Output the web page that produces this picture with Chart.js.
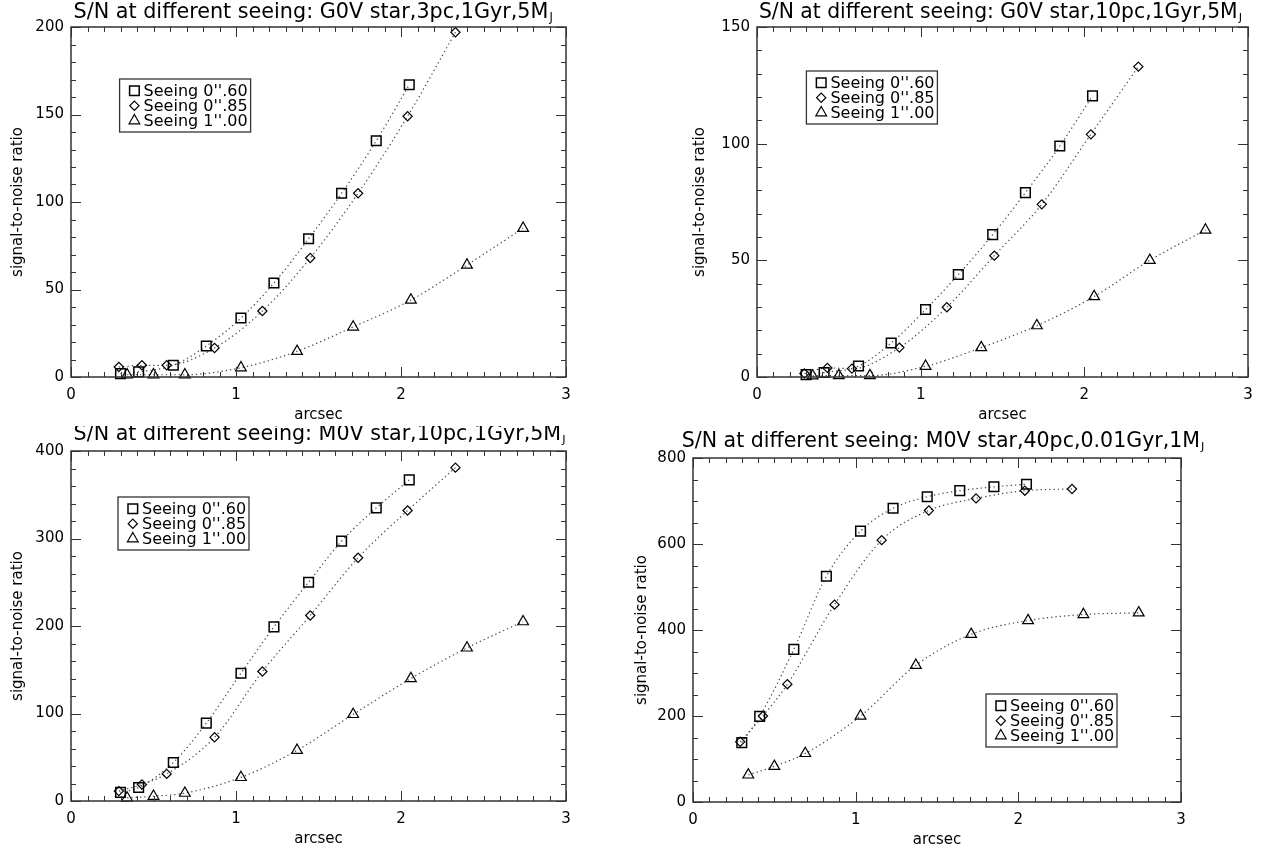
<!DOCTYPE html>
<html><head><meta charset="utf-8">
<script src="https://cdn.jsdelivr.net/npm/chart.js@4/dist/chart.umd.min.js"></script>
<style>
html,body{margin:0;padding:0;background:#fff;}
#wrap{position:relative;width:1268px;height:853px;overflow:hidden;background:#fff;}
canvas{position:absolute;}
</style></head><body><div id="wrap">
<canvas id="cA"></canvas><canvas id="cB"></canvas><canvas id="cC"></canvas><canvas id="cD"></canvas>
</div>
<script>
// ---------- data ----------
const seriesLabels = ["Seeing 0''.60", "Seeing 0''.85", "Seeing 1''.00"];
const xSeeing060 = [0.30, 0.41, 0.62, 0.82, 1.03, 1.23, 1.44, 1.64, 1.85, 2.05];
const xSeeing085 = [0.29, 0.43, 0.58, 0.87, 1.16, 1.45, 1.74, 2.04, 2.33];
const xSeeing100 = [0.34, 0.50, 0.69, 1.03, 1.37, 1.71, 2.06, 2.40, 2.74];

// G0V star, 3pc, 1Gyr, 5MJ
const snG0V3pc060 = [1.9, 2.9, 6.7, 17.7, 33.7, 53.7, 79, 105, 135, 167];
const snG0V3pc085 = [5.7, 6.7, 6.7, 16.6, 37.7, 68, 105, 149, 197];
const snG0V3pc100 = [1.3, 1.3, 1.3, 5.3, 14.7, 28.6, 44, 64, 85];
// G0V star, 10pc, 1Gyr, 5MJ
const snG0V10pc060 = [1.0, 1.9, 4.7, 14.6, 28.9, 43.9, 61, 79, 99, 120.5];
const snG0V10pc085 = [1.5, 3.9, 3.6, 12.6, 29.9, 52, 74, 104, 133];
const snG0V10pc100 = [0.5, 0.6, 0.6, 4.6, 12.6, 22, 34.5, 50, 63];
// M0V star, 10pc, 1Gyr, 5MJ
const snM0V10pc060 = [9.8, 15.5, 44, 89, 146, 199, 250, 297, 335, 367];
const snM0V10pc085 = [11.3, 18.9, 31, 72.8, 148, 212, 278, 332, 381];
const snM0V10pc100 = [3.5, 5.5, 9, 27, 58, 99, 140, 175, 205];
// M0V star, 40pc, 0.01Gyr, 1MJ
const snM0V40pc060 = [138, 199, 355, 525, 630, 683, 710, 724, 733, 739];
const snM0V40pc085 = [140, 200, 274, 459, 609, 678, 706, 724, 728];
const snM0V40pc100 = [63, 83, 113, 200, 318, 390, 422, 436, 440];

const xTickValues = [0, 1, 2, 3];
const xTickLabels = ['0', '1', '2', '3'];
const yTicksA = [0, 50, 100, 150, 200];
const yTicksB = [0, 50, 100, 150];
const yTicksC = [0, 100, 200, 300, 400];
const yTicksD = [0, 200, 400, 600, 800];

const titles = [
  'S/N at different seeing: G0V star,3pc,1Gyr,5M',
  'S/N at different seeing: G0V star,10pc,1Gyr,5M',
  'S/N at different seeing: M0V star,10pc,1Gyr,5M',
  'S/N at different seeing: M0V star,40pc,0.01Gyr,1M'
];

// ---------- layout / style ----------
const FONT = '"DejaVu Sans", "Liberation Sans", sans-serif';
const XAXIS_H = 47;
const panels = [
  {id:'cA', box:[0,0,634,426],   area:[71,27,566,377],  yTitleX:18,  title:{x:73.6, w:481, base:18.3}, yTicks:yTicksA, yMinor:10, legend:[119.6,79],
   text:titles[0], series:[snG0V3pc060, snG0V3pc085, snG0V3pc100]},
  {id:'cB', box:[630,0,638,426], area:[757,27,1248,377], yTitleX:700, title:{x:758.9, w:485, base:18.3}, yTicks:yTicksB, yMinor:10, legend:[806.4,71],
   text:titles[1], series:[snG0V10pc060, snG0V10pc085, snG0V10pc100]},
  {id:'cC', box:[0,426,634,427], area:[71,451,566,801], yTitleX:18,  title:{x:73.6, w:494, base:440}, yTicks:yTicksC, yMinor:20, legend:[118,497],
   text:titles[2], series:[snM0V10pc060, snM0V10pc085, snM0V10pc100]},
  {id:'cD', box:[630,426,638,427], area:[693,458,1181,802], yTitleX:642, title:{x:681.7, w:525, base:447}, yTicks:yTicksD, yMinor:50, legend:[986,694],
   text:titles[3], series:[snM0V40pc060, snM0V40pc085, snM0V40pc100]}
];
const xSets = [xSeeing060, xSeeing085, xSeeing100];
const pointStyles = [
  {pointStyle:'rect', pointRadius:6.8, pointBorderWidth:1.5},
  {pointStyle:'rectRot', pointRadius:4.6, pointBorderWidth:1.2},
  {pointStyle:'triangle', pointRadius:6.2, pointBorderWidth:1.2}
];

const idlPlugin = {
  id: 'idl',
  afterDraw(chart, args, o) {
    const ctx = chart.ctx, a = chart.chartArea, xs = chart.scales.x, ys = chart.scales.y;
    ctx.save();
    // inward ticks on all four sides
    ctx.strokeStyle = '#333'; ctx.lineWidth = 1;
    ctx.beginPath();
    const nx = Math.round((xs.max - xs.min) / o.xMinor);
    const xEvery = Math.round(o.xMajor / o.xMinor);
    for (let i = 0; i <= nx; i++) {
      const p = Math.round(xs.getPixelForValue(xs.min + i * o.xMinor)) + 0.5;
      const L = (i % xEvery === 0) ? 10 : 5;
      ctx.moveTo(p, a.bottom); ctx.lineTo(p, a.bottom - L);
      ctx.moveTo(p, a.top); ctx.lineTo(p, a.top + L);
    }
    const ny = Math.round((ys.max - ys.min) / o.yMinor);
    const yEvery = Math.round(o.yMajor / o.yMinor);
    for (let i = 0; i <= ny; i++) {
      const p = Math.round(ys.getPixelForValue(ys.min + i * o.yMinor)) + 0.5;
      const L = (i % yEvery === 0) ? 10 : 5;
      ctx.moveTo(a.left, p); ctx.lineTo(a.left + L, p);
      ctx.moveTo(a.right, p); ctx.lineTo(a.right - L, p);
    }
    ctx.stroke();
    // frame
    ctx.strokeStyle = '#333'; ctx.lineWidth = 1.5;
    ctx.strokeRect(a.left, a.top, a.right - a.left, a.bottom - a.top);
    // title with subscript J, sized to the measured span
    ctx.fillStyle = '#000'; ctx.textAlign = 'left'; ctx.textBaseline = 'alphabetic';
    ctx.font = '20px ' + FONT;
    const wBase = ctx.measureText(o.title).width + 0.55 * 20 * 0.55;
    const fs = 20 * o.titleW / wBase;
    const bigFont = fs.toFixed(2) + 'px ' + FONT, smallFont = (fs * 0.55).toFixed(2) + 'px ' + FONT;
    ctx.font = bigFont; const w1 = ctx.measureText(o.title).width;
    ctx.fillText(o.title, o.titleX, o.titleBase);
    ctx.font = smallFont; ctx.fillText(o.sub, o.titleX + w1 + 1, o.titleBase + 3);
    // legend box
    const lx = o.legend[0], ly = o.legend[1];
    ctx.lineWidth = 1.3; ctx.strokeStyle = '#333';
    ctx.strokeRect(lx, ly, 131, 53);
    ctx.font = '16px ' + FONT; ctx.textBaseline = 'middle';
    chart.data.datasets.forEach((ds, i) => {
      const cy = ly + 11.7 + 15 * i;
      ctx.fillStyle = 'rgba(0,0,0,0)'; ctx.strokeStyle = '#000'; ctx.lineWidth = ds.pointBorderWidth;
      Chart.helpers.drawPoint(ctx, {pointStyle: ds.pointStyle, radius: ds.pointRadius, borderWidth: ds.pointBorderWidth, rotation: 0}, lx + 14.8, cy);
      ctx.fillStyle = '#000';
      ctx.fillText(ds.label, lx + 24, cy + 1);
    });
    ctx.restore();
  }
};

panels.forEach(pn => {
  const [cx, cy, cw, ch] = pn.box;
  const [L, T, R, B] = pn.area;
  const cv = document.getElementById(pn.id);
  cv.width = cw; cv.height = ch;
  cv.style.left = cx + 'px'; cv.style.top = cy + 'px';
  cv.style.width = cw + 'px'; cv.style.height = ch + 'px';
  const scaleLeft = pn.yTitleX - 9;
  const yW = L - scaleLeft;
  const pad = {left: scaleLeft - cx, top: T - cy, right: cw - (R - cx), bottom: ch - (B - cy) - XAXIS_H};
  const yt = pn.yTicks;
  const datasets = pn.series.map((ys, k) => Object.assign({
    label: seriesLabels[k],
    data: xSets[k].map((x, i) => ({x: x, y: ys[i]})),
    borderColor: '#444', borderWidth: 1.2, borderDash: [1.3, 3],
    pointBorderColor: '#000', pointBackgroundColor: 'rgba(0,0,0,0)',
    cubicInterpolationMode: 'monotone', clip: false, fill: false
  }, pointStyles[k]));
  new Chart(cv, {
    type: 'line',
    data: {datasets},
    options: {
      responsive: false, animation: false, devicePixelRatio: 1,
      layout: {padding: pad},
      plugins: {
        legend: {display: false}, title: {display: false}, tooltip: {enabled: false},
        idl: {xMinor: 0.1, xMajor: 1, yMinor: pn.yMinor, yMajor: yt[1] - yt[0],
              title: pn.text, sub: 'J', titleX: pn.title.x - cx, titleW: pn.title.w, titleBase: pn.title.base - cy,
              legend: [pn.legend[0] - cx, pn.legend[1] - cy]}
      },
      scales: {
        x: {
          type: 'linear', min: 0, max: 3,
          afterBuildTicks: s => { s.ticks = xTickValues.map(v => ({value: v})); },
          afterFit: s => { s.height = XAXIS_H; },
          grid: {display: false, drawTicks: false}, border: {display: false},
          ticks: {padding: 9.5, color: '#000', font: {family: FONT, size: 15}, maxRotation: 0, autoSkip: false,
                  callback: (v, i) => xTickLabels[i]},
          title: {display: true, text: 'arcsec', color: '#000', font: {family: FONT, size: 15}, padding: {top: 0, bottom: 0}}
        },
        y: {
          type: 'linear', min: yt[0], max: yt[yt.length - 1],
          afterBuildTicks: s => { s.ticks = yt.map(v => ({value: v})); },
          afterFit: s => { s.width = yW; },
          grid: {display: false, drawTicks: false}, border: {display: false},
          ticks: {padding: 7, color: '#000', font: {family: FONT, size: 15}, autoSkip: false,
                  callback: (v, i) => String(yt[i])},
          title: {display: true, text: 'signal-to-noise ratio', color: '#000', font: {family: FONT, size: 15}, padding: {top: 0, bottom: 0}}
        }
      }
    },
    plugins: [idlPlugin]
  });
});
</script>
</body></html>
